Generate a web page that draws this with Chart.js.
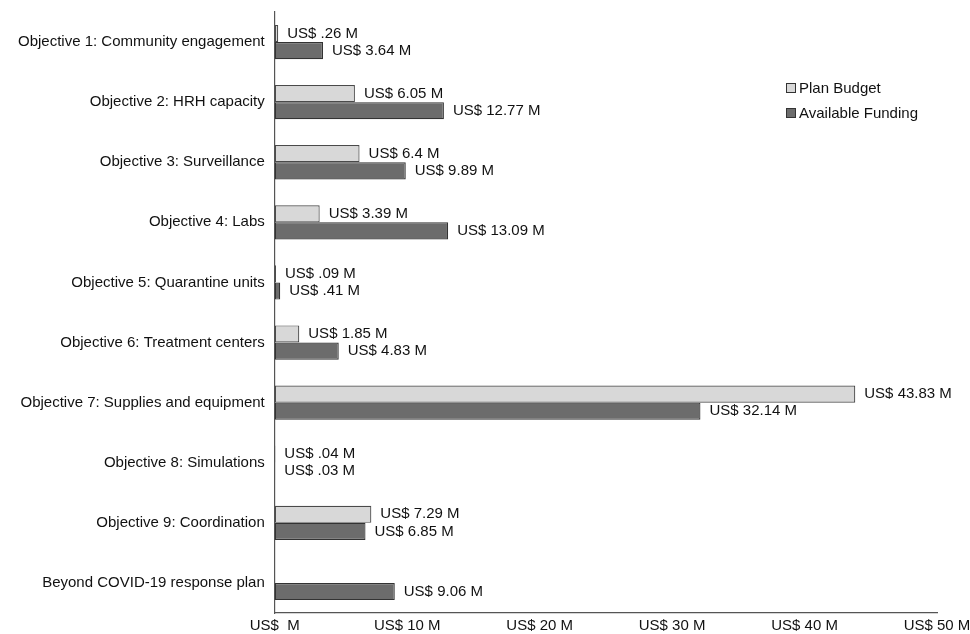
<!DOCTYPE html>
<html>
<head>
<meta charset="utf-8">
<script src="https://cdn.jsdelivr.net/npm/chart.js@4"></script>
<style>
  html, body { margin: 0; padding: 0; background: #fff; }
  #wrap { position: relative; width: 970px; height: 634px; }
  #legend { position: absolute; left: 786px; top: 78px; font: 15px "Liberation Sans", Arial, sans-serif; color: #111; }
  #legend div { height: 25px; line-height: 20px; white-space: nowrap; }
  #legend span.box { display: inline-block; width: 8px; height: 8px; border: 1px solid #333; margin-right: 3px; vertical-align: 0px; }
</style>
</head>
<body>
<div id="wrap">
  <canvas id="chart" width="970" height="634"></canvas>
  <div id="legend"></div>
</div>
<script>
'use strict';

const categories = [
  'Objective 1: Community engagement',
  'Objective 2: HRH capacity',
  'Objective 3: Surveillance',
  'Objective 4: Labs',
  'Objective 5: Quarantine units',
  'Objective 6: Treatment centers',
  'Objective 7: Supplies and equipment',
  'Objective 8: Simulations',
  'Objective 9: Coordination',
  'Beyond COVID-19 response plan',
];
const planBudget = [0.26, 6.05, 6.4, 3.39, 0.09, 1.85, 43.83, 0.04, 7.29, null];
const availableFunding = [3.64, 12.77, 9.89, 13.09, 0.41, 4.83, 32.14, 0.03, 6.85, 9.06];
const xTicks = [0, 10, 20, 30, 40, 50];

const FONT = '"Liberation Sans", Arial, sans-serif';

function money(v) {
  let s = String(v);
  if (s.startsWith('0.')) s = s.slice(1);
  return 'US$ ' + s + ' M';
}

// draws value text just past the end of each bar
const valueLabels = {
  id: 'valueLabels',
  afterDatasetsDraw(chart) {
    const ctx = chart.ctx;
    ctx.save();
    ctx.font = '15px ' + FONT;
    ctx.fillStyle = '#111';
    ctx.textBaseline = 'middle';
    ctx.textAlign = 'left';
    chart.data.datasets.forEach((ds, i) => {
      const meta = chart.getDatasetMeta(i);
      meta.data.forEach((bar, j) => {
        const v = ds.data[j];
        if (v === null || v === undefined) return;
        ctx.fillText(money(v), bar.x + 9, bar.y);
      });
    });
    ctx.restore();
  },
};

const config = {
  type: 'bar',
  data: {
    labels: categories,
    datasets: [
      {
        label: 'Plan Budget',
        data: planBudget,
        backgroundColor: '#d8d8d8',
        borderColor: '#4a4a4a',
        borderWidth: 1.2,
        borderSkipped: false,
        categoryPercentage: 0.57,
        barPercentage: 1.0,
      },
      {
        label: 'Available Funding',
        data: availableFunding,
        backgroundColor: '#6c6c6c',
        borderColor: '#333',
        borderWidth: 1.2,
        borderSkipped: false,
        categoryPercentage: 0.57,
        barPercentage: 1.0,
      },
    ],
  },
  options: {
    indexAxis: 'y',
    responsive: false,
    animation: false,
    layout: { padding: { top: 12, left: 8, right: 0, bottom: -5 } },
    scales: {
      x: {
        min: 0,
        max: 50,
        afterBuildTicks: (axis) => {
          axis.ticks = xTicks.map((v) => ({ value: v }));
        },
        afterFit: (axis) => {
          axis.paddingRight = 33;
          axis.paddingLeft = 0;
        },
        grid: { display: false, drawTicks: false },
        border: { display: true, color: '#555', width: 1.2 },
        ticks: {
          padding: 4,
          color: '#111',
          font: { family: FONT, size: 15 },
          maxRotation: 0,
          callback: (value) => (value === 0 ? 'US$  M' : 'US$ ' + value + ' M'),
        },
      },
      y: {
        afterFit: (axis) => {
          axis.paddingTop = 0;
          axis.paddingBottom = 0;
        },
        grid: { display: false, drawTicks: false },
        border: { display: true, color: '#555', width: 1.2 },
        ticks: {
          padding: 10,
          color: '#111',
          font: { family: FONT, size: 15 },
        },
      },
    },
    plugins: {
      legend: { display: false },
      tooltip: { enabled: false },
    },
  },
  plugins: [valueLabels],
};

const ctx = document.getElementById('chart');
const chart = new Chart(ctx, config);

const legend = document.getElementById('legend');
chart.data.datasets.forEach((ds) => {
  const row = document.createElement('div');
  const box = document.createElement('span');
  box.className = 'box';
  box.style.background = ds.backgroundColor;
  row.appendChild(box);
  row.appendChild(document.createTextNode(ds.label));
  legend.appendChild(row);
});
</script>
</body>
</html>
